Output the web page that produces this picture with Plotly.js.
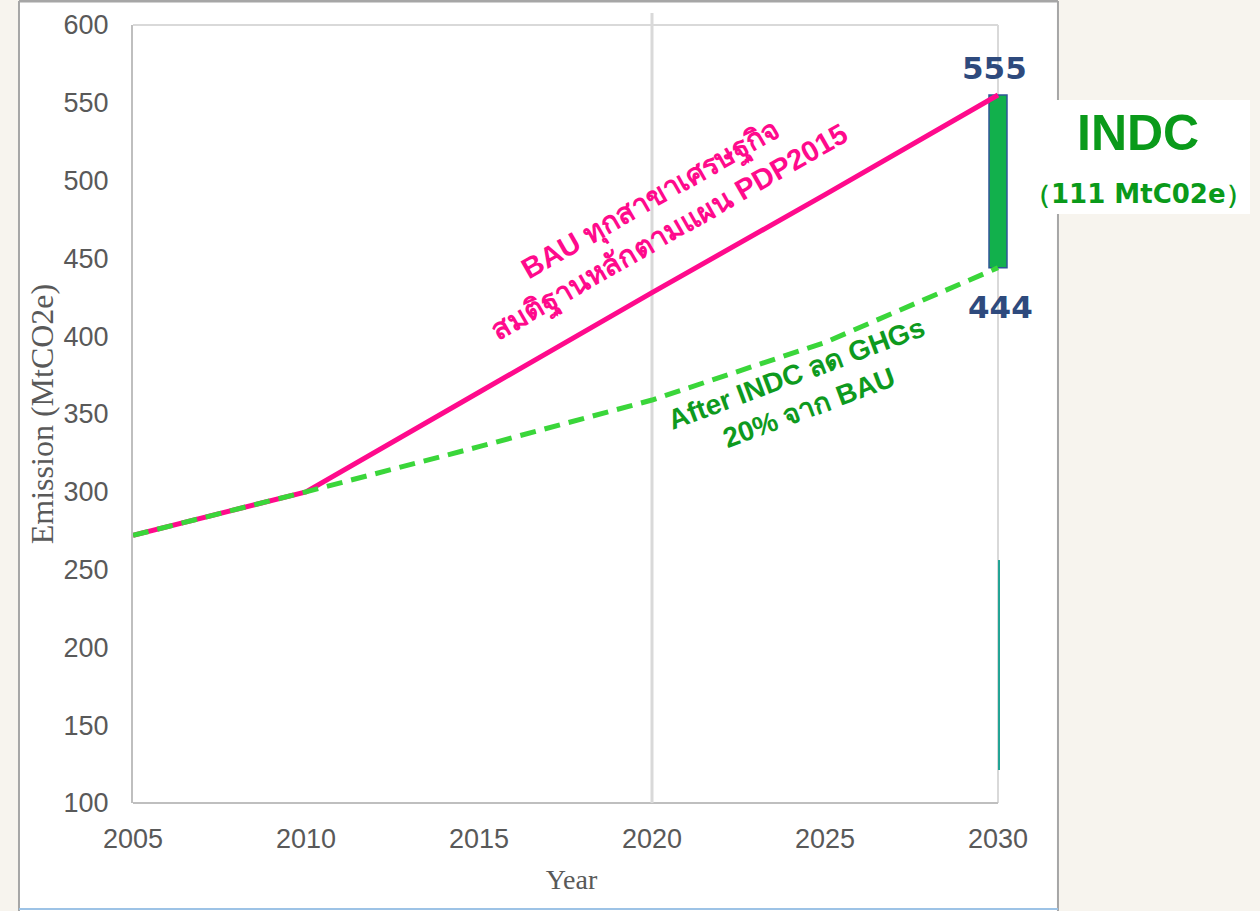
<!DOCTYPE html>
<html>
<head>
<meta charset="utf-8">
<script src="https://cdn.plot.ly/plotly-3.0.1.min.js"></script>
<style>
  html, body { margin:0; padding:0; background:#f7f4ee; }
  #chart { width:1260px; height:911px; }
</style>
</head>
<body>
<div id="chart"></div>
<script>
// ---- data ----
const years = [2005, 2010, 2015, 2020, 2025, 2030];
const bau = [272, 300, 364, 428, 491, 555];
const afterIndc = [272, 300, 329, 359, 396, 444];
const gapYear = [2030];
const gapBase = [444];
const gapTop = [555];
const yTicks = [100, 150, 200, 250, 300, 350, 400, 450, 500, 550, 600];
const xTicks = [2005, 2010, 2015, 2020, 2025, 2030];

const bauLabel = 'BAU ทุกสาขาเศรษฐกิจ<br>สมติฐานหลักตามแผน PDP2015';
const indcLabel = 'After INDC ลด GHGs<br>20% จาก BAU';
const gapTitle = 'INDC';
const gapSub = '（111 MtC02e）';

const xStart = xTicks[0], xEnd = xTicks[xTicks.length - 1];

const traces = [
  {
    type: 'bar', x: gapYear, base: gapBase,
    y: gapTop.map((t, i) => t - gapBase[i]),
    width: 0.52,
    marker: { color: '#12b04c', line: { color: '#2f5597', width: 1.5 } },
    hoverinfo: 'skip', showlegend: false
  },
  {
    type: 'scatter', mode: 'lines', x: years, y: bau,
    line: { color: '#ff0a8c', width: 5 }, showlegend: false
  },
  {
    type: 'scatter', mode: 'lines', x: years, y: afterIndc,
    line: { color: '#3ad63a', width: 5, dash: '16px,9px' }, showlegend: false
  }
];

const grayText = '#595959';
const layout = {
  width: 1260, height: 911,
  margin: { l: 133, r: 250, t: 25, b: 108 },
  paper_bgcolor: '#f7f4ee',
  plot_bgcolor: 'rgba(0,0,0,0)',
  showlegend: false,
  xaxis: {
    range: [2005, 2030.347], tickvals: xTicks, ticktext: xTicks.map(String),
    showgrid: false, zeroline: false, showline: false,
    ticks: '', ticklabelstandoff: 17,
    tickfont: { family: 'Liberation Sans, Arial, sans-serif', size: 27, color: grayText },
    title: { text: 'Year', standoff: 16,
      font: { family: 'Liberation Serif, Times New Roman, serif', size: 28, color: grayText } }
  },
  yaxis: {
    range: [100, 600], tickvals: yTicks, ticktext: yTicks.map(String),
    showgrid: false, zeroline: false,
    showline: true, linecolor: '#bfbfbf', linewidth: 2,
    ticks: '', ticklabelstandoff: 17,
    tickfont: { family: 'Liberation Sans, Arial, sans-serif', size: 27, color: grayText },
    title: { text: 'Emission (MtCO2e)', standoff: 0,
      font: { family: 'Liberation Serif, Times New Roman, serif', size: 32, color: grayText } }
  },
  shapes: [
    // white panel
    { type: 'rect', xref: 'paper', yref: 'paper', x0: -0.13, x1: 1.0547, y0: -0.14, y1: 1.0308,
      fillcolor: '#ffffff', line: { width: 0 }, layer: 'below' },
    { type: 'line', xref: 'paper', yref: 'paper', x0: -0.13, x1: -0.13, y0: -0.14, y1: 1.0308,
      line: { color: '#a6a6a6', width: 2 }, layer: 'below' },
    { type: 'line', xref: 'paper', yref: 'paper', x0: 1.0547, x1: 1.0547, y0: -0.14, y1: 1.0308,
      line: { color: '#a6a6a6', width: 2 }, layer: 'below' },
    { type: 'line', xref: 'paper', yref: 'paper', x0: -0.13, x1: 1.0547, y0: 1.0308, y1: 1.0308,
      line: { color: '#a6a6a6', width: 3 }, layer: 'below' },
    { type: 'line', xref: 'paper', yref: 'paper', x0: -0.13, x1: 1.0547, y0: -0.1362, y1: -0.1362,
      line: { color: '#9dc3e6', width: 2 }, layer: 'below' },
    // white box behind INDC text
    { type: 'rect', xref: 'paper', yref: 'paper', x0: 1.0228, x1: 1.2737, y0: 0.757, y1: 0.9036,
      fillcolor: '#ffffff', line: { width: 0 }, layer: 'below' },
    // plot frame: top and right (light), bottom (darker)
    { type: 'line', xref: 'x', yref: 'paper', x0: xStart, x1: xEnd, y0: 1, y1: 1,
      line: { color: '#d9d9d9', width: 2 }, layer: 'below' },
    { type: 'line', xref: 'x', yref: 'paper', x0: xEnd, x1: xEnd, y0: 0, y1: 1,
      line: { color: '#d9d9d9', width: 2 }, layer: 'below' },
    { type: 'line', xref: 'x', yref: 'paper', x0: xStart, x1: xEnd, y0: 0, y1: 0,
      line: { color: '#bfbfbf', width: 2 }, layer: 'below' },
    // 2020 vertical line
    { type: 'line', xref: 'x', yref: 'paper', x0: 2020, x1: 2020, y0: 0, y1: 1.0154,
      line: { color: '#d9d9d9', width: 3 }, layer: 'below' },
    // teal segment at right
    { type: 'line', xref: 'x', yref: 'paper', x0: xEnd + 0.03, x1: xEnd + 0.03, y0: 0.0424, y1: 0.3123,
      line: { color: '#20a394', width: 2 }, layer: 'above' }
  ],
  annotations: [
    { x: 2020.25, y: 477, xref: 'x', yref: 'y', text: bauLabel, showarrow: false,
      textangle: -29.7,
      font: { family: 'Liberation Sans, Arial, sans-serif', size: 29, color: '#ff0a8c', weight: 'bold' } },
    { x: 2024.35, y: 365, xref: 'x', yref: 'y', text: indcLabel, showarrow: false,
      textangle: -20.5,
      font: { family: 'Liberation Sans, Arial, sans-serif', size: 28, color: '#0e9a1e', weight: 'bold' } },
    { x: 2030, y: 555, xref: 'x', yref: 'y', text: '555', showarrow: false, xshift: -3, yshift: 27,
      font: { family: 'DejaVu Sans, sans-serif', size: 31, color: '#2e4a7d', weight: 'bold' } },
    { x: 2030, y: 444, xref: 'x', yref: 'y', text: '444', showarrow: false, xshift: 3, yshift: -39,
      font: { family: 'DejaVu Sans, sans-serif', size: 31, color: '#2e4a7d', weight: 'bold' } },
    { x: 1.146, y: 0.861, xref: 'paper', yref: 'paper', xanchor: 'center', yanchor: 'middle',
      text: gapTitle, showarrow: false,
      font: { family: 'Liberation Sans, Arial, sans-serif', size: 50, color: '#0a9a1a', weight: 'bold' } },
    { x: 1.146, y: 0.783, xref: 'paper', yref: 'paper', xanchor: 'center', yanchor: 'middle',
      text: gapSub, showarrow: false,
      font: { family: 'DejaVu Sans, sans-serif', size: 26, color: '#0a9a1a', weight: 'bold' } }
  ]
};

Plotly.newPlot('chart', traces, layout, { displayModeBar: false, staticPlot: true });
</script>
</body>
</html>
